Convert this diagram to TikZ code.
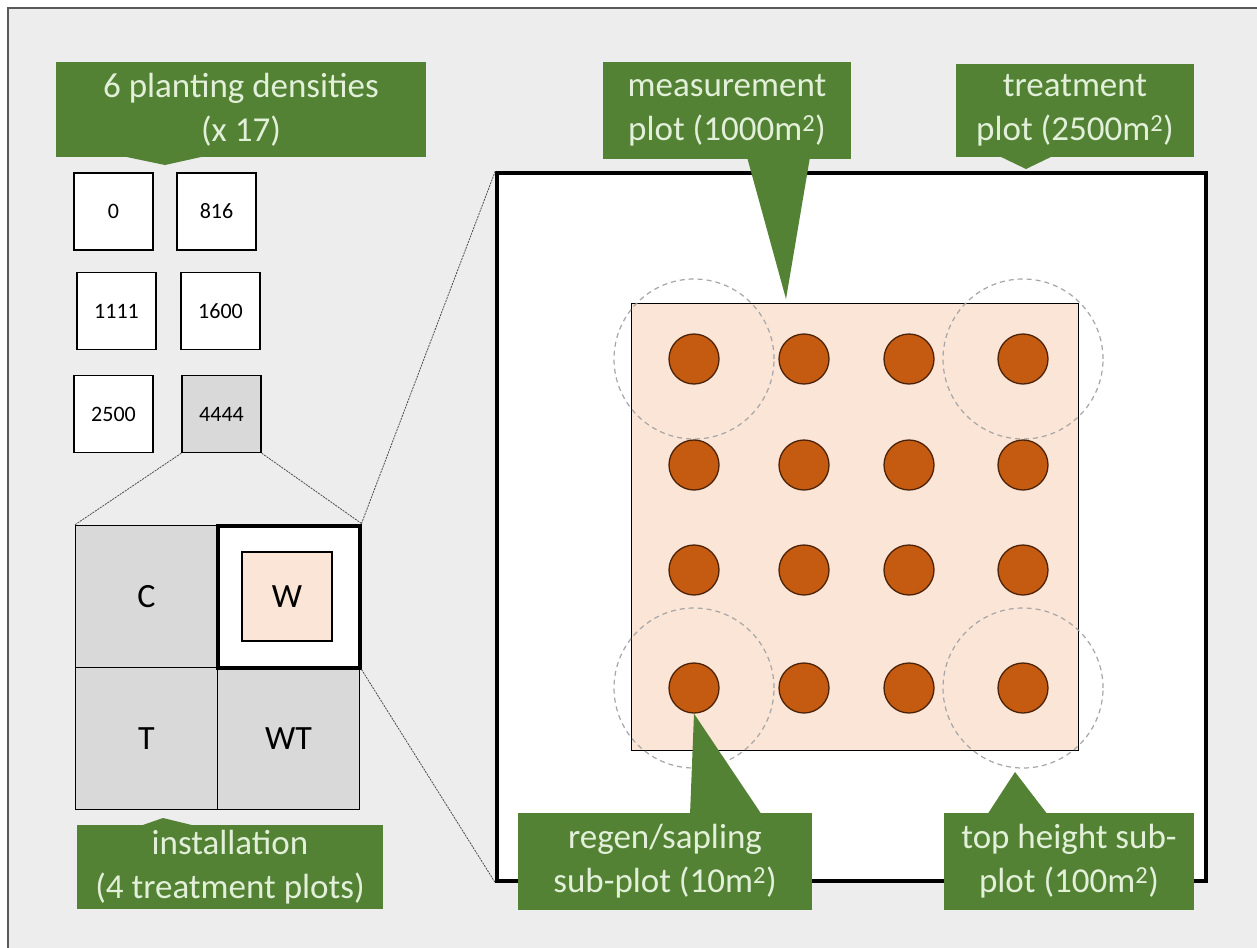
\documentclass[tikz,border=0pt]{standalone}
\usepackage{fontspec}
\setmainfont{Carlito}
\definecolor{calloutgreen}{HTML}{548235}
\definecolor{callouttext}{HTML}{E2F0D9}
\definecolor{plotpeach}{HTML}{FBE5D6}
\definecolor{treeorange}{HTML}{C55A11}
\definecolor{treeedge}{HTML}{4A2208}
\definecolor{panelgray}{HTML}{EDEDED}
\definecolor{cellgray}{HTML}{D9D9D9}
\tikzset{
    callout/.style={fill=calloutgreen, text=callouttext, align=center, inner sep=0pt,
        font=\fontsize{35}{44}\selectfont},
    numbox/.style={draw=black, line width=1.5pt, fill=white, minimum width=79pt,
        minimum height=77pt, inner sep=0pt, font=\fontsize{22}{26}\selectfont},
    cell/.style={draw=black, line width=1.3pt, fill=cellgray, minimum width=142pt,
        minimum height=142pt, inner sep=0pt, font=\fontsize{34}{40}\selectfont},
    tree/.style={circle, fill=treeorange, draw=treeedge, line width=1.3pt,
        minimum size=50pt, inner sep=0pt},
    subplot/.style={draw=black!35, line width=1.2pt, dash pattern=on 5pt off 4pt},
    zoomline/.style={draw=black!70, line width=0.8pt, dash pattern=on 2pt off 1pt},
}
\begin{document}
\begin{tikzpicture}[x=1pt, y=-1pt]
    \useasboundingbox (0,0) rectangle (1257,947);
    \clip (0,0) rectangle (1257,947);
    \fill[white] (0,0) rectangle (1257,947);
    \draw[fill=panelgray, draw=black!65, line width=1.5pt] (8,8) rectangle (1300,1000);

    % Densities (top left)
    \node[numbox] (d0)    at (113.5,211.5) {0};
    \node[numbox] (d816)  at (216.5,211.5) {816};
    \node[numbox] (d1111) at (116.5,311)   {1111};
    \node[numbox] (d1600) at (220.5,311)   {1600};
    \node[numbox] (d2500) at (113.5,414)   {2500};
    \node[numbox, fill=cellgray] (d4444) at (221.5,414) {4444};

    % Installation (bottom left)
    \node[cell] (cellC)  at (146.5,596.5) {C};
    \node[cell] (cellT)  at (146.5,738.5) {T};
    \node[cell] (cellWT) at (288.5,738.5) {WT};
    \node[cell, fill=white, line width=4pt] (cellW) at (288.5,596.5) {};
    \node[draw=black, line width=1.3pt, fill=plotpeach, minimum width=90pt,
        minimum height=89pt, font=\fontsize{34}{40}\selectfont] (mW) at (287,596.5) {W};

    % Treatment plot (right)
    \node[draw=black, line width=3.5pt, fill=white, minimum width=709pt,
        minimum height=708pt] (tplot) at (851.5,527) {};
    \node[draw=black, line width=1pt, fill=plotpeach, minimum width=447pt,
        minimum height=447pt] (mplot) at (854.5,526.5) {};
    \foreach \x in {694,1023}
        \foreach \y in {359,688}
            \draw[subplot] (\x,\y) circle[radius=80pt];
    \foreach \x in {694,804,909,1023}
        \foreach \y in {359,465,570,688}
            \node[tree] (t-\x-\y) at (\x,\y) {};

    % Zoom lines
    \draw[zoomline] (d4444.south west) -- (cellC.north west);
    \draw[zoomline] (d4444.south east) -- (cellW.north east);
    \draw[zoomline] (cellW.north east) -- (tplot.north west);
    \draw[zoomline] (cellW.south east) -- (tplot.south west);

    % Callouts
    \node[callout, minimum width=370pt, minimum height=95pt] (dens) at (241,109.5)
        {6 planting densities\\(x 17)};
    \node[callout, minimum width=306pt, minimum height=84pt] (inst) at (230,867)
        {installation\\(4 treatment plots)};
    \node[callout, minimum width=248pt, minimum height=97pt] (meas) at (727,110.5)
        {measurement\\plot (1000m\textsuperscript{2})};
    \node[callout, minimum width=238pt, minimum height=93pt] (treat) at (1075,110.5)
        {treatment\\plot (2500m\textsuperscript{2})};
    \node[callout, minimum width=294pt, minimum height=97pt] (regen) at (665,861.5)
        {regen/sapling\\sub-plot (10m\textsuperscript{2})};
    \node[callout, minimum width=250pt, minimum height=97pt] (toph) at (1069,861.5)
        {top height sub-\\plot (100m\textsuperscript{2})};

    \coordinate (densTip)  at (165,165);
    \coordinate (instTip)  at (163,818);
    \coordinate (measTip)  at (786,299);
    \coordinate (treatTip) at (1026,169);
    \coordinate (tophTip)  at (1015,772);
    \fill[calloutgreen] (117,155) -- (densTip) -- (210,155) -- cycle;
    \fill[calloutgreen] (137,827) -- (instTip) -- (200,827) -- cycle;
    \fill[calloutgreen] (747,157) -- (measTip) -- (810,157) -- cycle;
    \fill[calloutgreen] (997,155) -- (treatTip) -- (1055,155) -- cycle;
    \fill[calloutgreen] (690,815) -- (t-694-688.south) -- (762,815) -- cycle;
    \fill[calloutgreen] (987,815) -- (tophTip) -- (1048,815) -- cycle;
\end{tikzpicture}
\end{document}
